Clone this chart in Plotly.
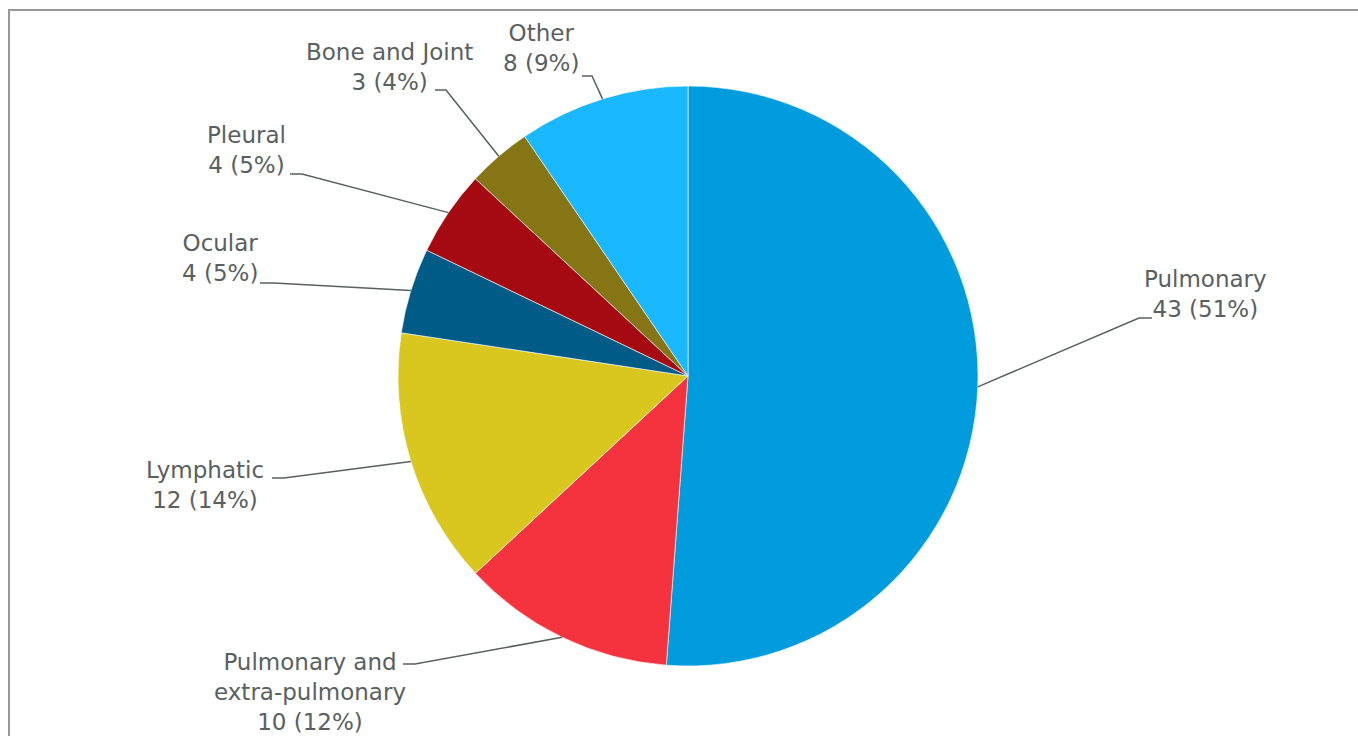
import math
import plotly.graph_objects as go

# Extrapulmonary / pulmonary TB site breakdown
categories = ["Pulmonary", "Pulmonary and<br>extra-pulmonary", "Lymphatic",
              "Ocular", "Pleural", "Bone and Joint", "Other"]
counts = [43, 10, 12, 4, 4, 3, 8]
percent_labels = ["51%", "12%", "14%", "5%", "5%", "4%", "9%"]
colors = ["#009CDE", "#F5333F", "#D9C61F", "#005C86", "#A50A12", "#857515", "#1AB8FF"]

W, H = 1358, 736
CX, CY, R = 688, 376, 290          # pie centre and radius in pixels
TEXT_COLOR = "#596060"
FONT = "DejaVu Sans"

# label block centre (px) and elbow of the leader line (px): (x_start, x_end, y)
label_layout = {
    "Pulmonary": ((1205, 294), (1152, 1139, 318)),
    "Pulmonary and<br>extra-pulmonary": ((310, 692), (403, 415, 664)),
    "Lymphatic": ((205, 485), (272, 284, 478)),
    "Ocular": ((220, 258), (260, 274, 283)),
    "Pleural": ((246, 150), (290, 302, 174)),
    "Bone and Joint": ((390, 67), (435, 446, 90)),
    "Other": ((541, 48), (582, 592, 76)),
}


def px(x, y):
    return x / W, 1 - y / H


fig = go.Figure(go.Pie(
    labels=categories,
    values=counts,
    sort=False,
    direction="clockwise",
    rotation=0,
    marker=dict(colors=colors, line=dict(color="rgba(255,255,255,0.6)", width=1)),
    textinfo="none",
    hoverinfo="label+value+percent",
    showlegend=False,
    domain=dict(x=[(CX - R) / W, (CX + R) / W], y=[1 - (CY + R) / H, 1 - (CY - R) / H]),
))

total = sum(counts)
shapes = []
annotations = []
cum = 0
for cat, val, pct in zip(categories, counts, percent_labels):
    mid = (cum + val / 2) / total * 2 * math.pi
    cum += val
    ex, ey = CX + R * math.sin(mid), CY - R * math.cos(mid)
    (tx, ty), (hx0, hx1, hy) = label_layout[cat]
    p0, p1, p2 = px(hx0, hy), px(hx1, hy), px(ex, ey)
    shapes.append(dict(
        type="path", xref="paper", yref="paper",
        path=f"M {p0[0]},{p0[1]} L {p1[0]},{p1[1]} L {p2[0]},{p2[1]}",
        line=dict(color=TEXT_COLOR, width=1.5),
    ))
    ax, ay = px(tx, ty)
    annotations.append(dict(
        x=ax, y=ay, xref="paper", yref="paper", showarrow=False,
        xanchor="center", yanchor="middle", align="center",
        text=f"{cat}<br>{val} ({pct})",
        font=dict(family=FONT, size=23, color=TEXT_COLOR),
    ))

# chart frame
bx0, by0 = px(9, 10)
shapes.append(dict(type="path", xref="paper", yref="paper",
                   path=f"M {bx0},-0.05 L {bx0},{by0} L 1.05,{by0}",
                   line=dict(color="#989898", width=2)))

fig.update_layout(
    width=W, height=H,
    margin=dict(l=0, r=0, t=0, b=0),
    paper_bgcolor="white",
    plot_bgcolor="white",
    shapes=shapes,
    annotations=annotations,
)

fig.write_html("out.html")
